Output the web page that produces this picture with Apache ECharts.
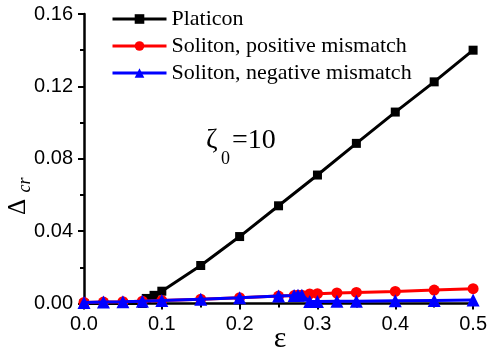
<!DOCTYPE html>
<html>
<head>
<meta charset="utf-8">
<script src="https://cdn.jsdelivr.net/npm/echarts@6/dist/echarts.min.js"></script>
<style>html,body{margin:0;padding:0;background:#fff;}#c{width:490px;height:352px;}</style>
</head>
<body>
<div id="c"></div>
<script>
// ---- data ----
var platiconEps = [0, 0.025, 0.05, 0.075, 0.08, 0.09, 0.1, 0.15, 0.2, 0.25, 0.3, 0.35, 0.4, 0.45, 0.5];
var platiconVal = [0, 0, 0, 0, 0.0028, 0.0045, 0.0068, 0.021, 0.037, 0.054, 0.071, 0.0885, 0.1058, 0.1225, 0.140];

var posEps = [0, 0.025, 0.05, 0.075, 0.1, 0.15, 0.2, 0.25, 0.27, 0.275, 0.28, 0.29, 0.3, 0.325, 0.35, 0.4, 0.45, 0.5];
var posVal = [0.0006, 0.0008, 0.001, 0.0013, 0.0016, 0.0024, 0.0032, 0.0041, 0.0044, 0.0045, 0.0046, 0.0053, 0.0054, 0.0058, 0.0061, 0.0067, 0.0074, 0.0082];

var negEps = [0, 0.025, 0.05, 0.075, 0.1, 0.15, 0.2, 0.25, 0.27, 0.275, 0.28, 0.29, 0.3, 0.325, 0.35, 0.4, 0.45, 0.5];
var negVal = [0.0006, 0.0008, 0.001, 0.0013, 0.0016, 0.0024, 0.0032, 0.0041, 0.0044, 0.0045, 0.0046, 0.0011, 0.0011, 0.0012, 0.0013, 0.0015, 0.0017, 0.0019];

var seriesNames = ['Platicon', 'Soliton, positive mismatch', 'Soliton, negative mismatch'];
var xTickStep = 0.1, yTickStep = 0.04;

function pairs(xs, ys) { return xs.map(function (x, i) { return [x, ys[i]]; }); }

var chart = echarts.init(document.getElementById('c'), null, {renderer: 'canvas'});
var serif = 'Liberation Serif';
var sans = 'Liberation Sans';

chart.setOption({
  animation: false,
  backgroundColor: '#fff',
  grid: {left: 84, right: 16, top: 14, bottom: 48.5, containLabel: false},
  legend: {
    orient: 'vertical', left: 106, top: 3, itemWidth: 54, itemHeight: 12, itemGap: 5,
    lineStyle: {width: 3},
    textStyle: {fontFamily: serif, fontSize: 22, color: '#000'},
    data: seriesNames
  },
  xAxis: {
    type: 'value', min: 0, max: 0.5, interval: xTickStep,
    axisLine: {lineStyle: {color: '#000', width: 2.5}},
    axisTick: {show: true, inside: false, length: 6, lineStyle: {color: '#000', width: 2}},
    minorTick: {show: true, splitNumber: 2, length: 4, lineStyle: {color: '#000', width: 2}},
    splitLine: {show: false},
    axisLabel: {fontFamily: sans, fontSize: 20, color: '#000', margin: 11,
      formatter: function (v) { return v.toFixed(1); }}
  },
  yAxis: {
    type: 'value', min: 0, max: 0.16, interval: yTickStep,
    axisLine: {show: true, lineStyle: {color: '#000', width: 2.5}},
    axisTick: {show: true, inside: false, length: 6, lineStyle: {color: '#000', width: 2}},
    minorTick: {show: true, splitNumber: 2, length: 4, lineStyle: {color: '#000', width: 2}},
    splitLine: {show: false},
    axisLabel: {fontFamily: sans, fontSize: 20, color: '#000', margin: 11,
      formatter: function (v) { return v.toFixed(2); }}
  },
  series: [
    {name: seriesNames[0], type: 'line', data: pairs(platiconEps, platiconVal), color: '#000',
     symbol: 'rect', symbolSize: 9, lineStyle: {width: 3, color: '#000'}, itemStyle: {color: '#000'}, z: 2},
    {name: seriesNames[1], type: 'line', data: pairs(posEps, posVal), color: '#ff0000',
     symbol: 'circle', symbolSize: 11, lineStyle: {width: 3, color: '#ff0000'}, itemStyle: {color: '#ff0000'}, z: 3},
    {name: seriesNames[2], type: 'line', data: pairs(negEps, negVal), color: '#0000ff',
     symbol: 'triangle', symbolSize: 13, lineStyle: {width: 3, color: '#0000ff'}, itemStyle: {color: '#0000ff'}, z: 4}
  ],
  graphic: [
    {type: 'text', left: 206, top: 127, style: {text: 'ζ', font: '28px ' + serif, fill: '#000'}},
    {type: 'text', left: 221, top: 150, style: {text: '0', font: '18px ' + serif, fill: '#000'}},
    {type: 'text', left: 232, top: 127, style: {text: '=10', font: '28px ' + serif, fill: '#000'}},
    {type: 'text', x: 18, y: 207, rotation: Math.PI / 2,
     style: {text: 'Δ', font: '25px ' + serif, fill: '#000', align: 'center', verticalAlign: 'middle'}},
    {type: 'text', x: 25, y: 185, rotation: Math.PI / 2,
     style: {text: 'cr', font: 'italic 18px ' + serif, fill: '#000', align: 'center', verticalAlign: 'middle'}},
    {type: 'text', x: 280, y: 339,
     style: {text: 'ε', font: '30px ' + serif, fill: '#000', align: 'center', verticalAlign: 'middle'}}
  ]
});
</script>
</body>
</html>
